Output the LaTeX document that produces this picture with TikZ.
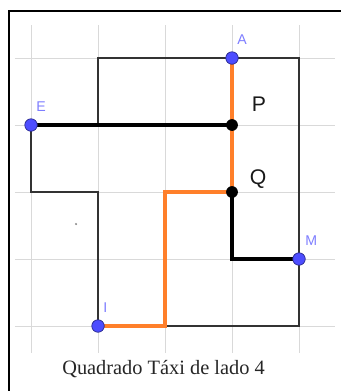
\documentclass[tikz,border=0pt]{standalone}
\usepackage{fontspec}
\setmainfont{Liberation Serif}
\setsansfont{Liberation Sans}
\definecolor{ggblue}{RGB}{77,77,255}
\definecolor{gglabel}{RGB}{125,125,255}
\definecolor{ggorange}{RGB}{255,127,42}
\tikzset{
  rotulo/.style={anchor=west,inner sep=0pt,text=gglabel,font=\sffamily\fontsize{12}{13}\selectfont},
  letra/.style={inner sep=0pt,text=black!90,font=\sffamily\fontsize{18}{20}\selectfont},
  caminho/.style={line width=4.2pt},
}
\begin{document}
\begin{tikzpicture}[x=2cm,y=2cm]
\useasboundingbox (-0.463,-0.970) rectangle (4.612,4.866);
% moldura e malha
\draw[line width=1.2pt] (4.7,4.701) -- (-0.328,4.701) -- (-0.328,-1.1);
\draw[black!15,line width=0.8pt,step=2cm] (-0.24,-0.40) grid (4.54,4.49);
% pontos
\coordinate (A) at (3,4);
\coordinate (E) at (0,3);
\coordinate (P) at (3,3);
\coordinate (Q) at (3,2);
\coordinate (M) at (4,1);
\coordinate (I) at (1,0);
\coordinate (C1) at (2,2);
\coordinate (C2) at (2,0);
\coordinate (C3) at (3,1);
% quadrado taxi
\draw[black!80,line width=1.6pt] (I) -- (4,0) -- (4,4) -- (1,4) -- (1,3) -- (E)
  -- (0,2) -- (1,2) -- cycle;
% caminhos
\draw[caminho,ggorange] (A) -- (Q) -- (C1) -- (C2) -- (I);
\draw[caminho,black] (E) -- (P);
\draw[caminho,black] (Q) -- (C3) -- (M);
\fill (P) circle (5pt);
\fill (Q) circle (5pt);
\foreach \p in {A,E,M,I}
  \filldraw[fill=ggblue,draw=ggblue!55!black,line width=0.6pt] (\p) circle (5.3pt);
\fill[black!45] (0.672,1.522) circle (1pt);
% rotulos
\node[rotulo] (rA) at (3.075,4.269) {A};
\node[rotulo] (rE) at (0.075,3.269) {E};
\node[rotulo] (rM) at (4.09,1.269) {M};
\node[rotulo] (rI) at (1.075,0.269) {I};
\node[letra] (rP) at (3.403,3.313) {P};
\node[letra] (rQ) at (3.388,2.194) {Q};
\node[anchor=base,text=black!85,font=\fontsize{17.3}{20}\selectfont] (titulo)
  at (1.978,-0.731) {Quadrado Táxi de lado 4};
\end{tikzpicture}
\end{document}
